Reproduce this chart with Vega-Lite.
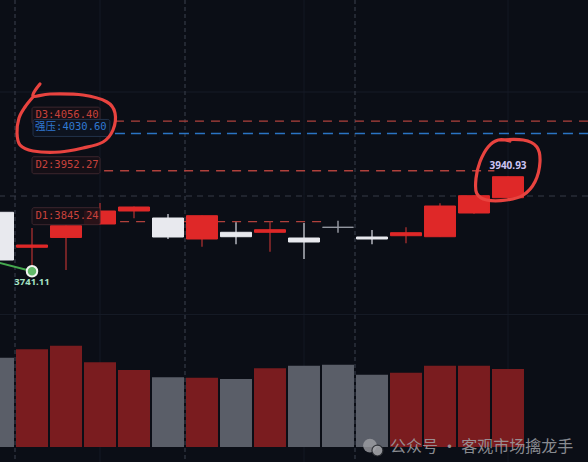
{
  "$schema": "https://vega.github.io/schema/vega-lite/v6.json",
  "width": 588,
  "height": 462,
  "autosize": {"type": "none"},
  "padding": 0,
  "background": "#0b0e16",
  "config": {"view": {"stroke": null}, "scale": {"continuousPadding": 0}},
  "datasets": {
    "candles": [
      {"idx": 0, "open": 3865.0, "high": 3868.0, "low": 3760.0, "close": 3764.8, "vol": 893},
      {"idx": 1, "open": 3791.5, "high": 3832.0, "low": 3741.11, "close": 3796.3, "vol": 977},
      {"idx": 2, "open": 3812.1, "high": 3838.0, "low": 3744.0, "close": 3836.8, "vol": 1013},
      {"idx": 3, "open": 3840.4, "high": 3884.5, "low": 3840.0, "close": 3867.7, "vol": 847},
      {"idx": 4, "open": 3867.7, "high": 3877.0, "low": 3852.4, "close": 3876.1, "vol": 770},
      {"idx": 5, "open": 3853.0, "high": 3861.4, "low": 3808.9, "close": 3813.1, "vol": 697},
      {"idx": 6, "open": 3808.9, "high": 3858.0, "low": 3792.7, "close": 3857.8, "vol": 693},
      {"idx": 7, "open": 3823.0, "high": 3844.0, "low": 3797.8, "close": 3813.7, "vol": 680},
      {"idx": 8, "open": 3823.0, "high": 3845.2, "low": 3782.2, "close": 3828.4, "vol": 787},
      {"idx": 9, "open": 3811.0, "high": 3842.5, "low": 3766.9, "close": 3802.6, "vol": 813},
      {"idx": 10, "open": 3833.5, "high": 3847.3, "low": 3822.1, "close": 3833.5, "vol": 823},
      {"idx": 11, "open": 3813.1, "high": 3827.8, "low": 3797.8, "close": 3808.9, "vol": 723},
      {"idx": 12, "open": 3815.8, "high": 3833.5, "low": 3799.9, "close": 3822.1, "vol": 743},
      {"idx": 13, "open": 3813.7, "high": 3883.9, "low": 3813.0, "close": 3878.2, "vol": 813},
      {"idx": 14, "open": 3863.5, "high": 3900.5, "low": 3862.0, "close": 3899.8, "vol": 813},
      {"idx": 15, "open": 3895.6, "high": 3940.93, "low": 3895.0, "close": 3939.7, "vol": 780}
    ],
    "levels": [
      {"name": "D3", "kind": "D", "price": 4056.40, "start": 3.44, "end": 17.4, "label": "D3:4056.40"},
      {"name": "强压", "kind": "S", "price": 4030.60, "start": 3.44, "end": 17.4, "label": "强压:4030.60"},
      {"name": "D2", "kind": "D", "price": 3952.27, "start": 3.12, "end": 14.6, "label": "D2:3952.27"},
      {"name": "D1", "kind": "D", "price": 3845.24, "start": 3.12, "end": 9.53, "label": "D1:3845.24"}
    ],
    "vgrid_dash": [{"idx": 0.5}, {"idx": 5.5}, {"idx": 10.5}],
    "vgrid_solid": [{"idx": 3}, {"idx": 9}, {"idx": 15}],
    "hgrid_solid": [{"price": 4117.6}, {"price": 3650.3}],
    "hgrid_dash": [{"price": 3899.2}],
    "lowline": [{"idx": 0, "price": 3759.6}, {"idx": 1, "price": 3741.11}],
    "lowpt": [{"idx": 1, "price": 3741.11, "label": "3741.11"}],
    "highpt": [{"idx": 15, "price": 3940.93, "label": "3940.93"}],
    "circles": [
      {"grp": "a", "seq": 0, "idx": 1.235, "price": 4134.4},
      {"grp": "a", "seq": 1, "idx": 1.029, "price": 4109.2},
      {"grp": "a", "seq": 2, "idx": 1.529, "price": 4113.4},
      {"grp": "a", "seq": 3, "idx": 2.5, "price": 4111.3},
      {"grp": "a", "seq": 4, "idx": 3.206, "price": 4096.6},
      {"grp": "a", "seq": 5, "idx": 3.441, "price": 4073.5},
      {"grp": "a", "seq": 6, "idx": 3.382, "price": 4037.8},
      {"grp": "a", "seq": 7, "idx": 3.088, "price": 4012.6},
      {"grp": "a", "seq": 8, "idx": 2.5, "price": 4000.0},
      {"grp": "a", "seq": 9, "idx": 1.824, "price": 3991.6},
      {"grp": "a", "seq": 10, "idx": 1.029, "price": 3993.7},
      {"grp": "a", "seq": 11, "idx": 0.647, "price": 4006.3},
      {"grp": "a", "seq": 12, "idx": 0.559, "price": 4031.5},
      {"grp": "a", "seq": 13, "idx": 0.618, "price": 4063.0},
      {"grp": "a", "seq": 14, "idx": 0.794, "price": 4086.1},
      {"grp": "a", "seq": 15, "idx": 1.029, "price": 4107.1},
      {"grp": "b", "seq": 0, "idx": 14.715, "price": 4016.8},
      {"grp": "b", "seq": 1, "idx": 15.45, "price": 4016.8},
      {"grp": "b", "seq": 2, "idx": 15.844, "price": 4002.7},
      {"grp": "b", "seq": 3, "idx": 15.941, "price": 3971.2},
      {"grp": "b", "seq": 4, "idx": 15.794, "price": 3929.2},
      {"grp": "b", "seq": 5, "idx": 15.45, "price": 3901.3},
      {"grp": "b", "seq": 6, "idx": 14.962, "price": 3890.8},
      {"grp": "b", "seq": 7, "idx": 14.374, "price": 3890.8},
      {"grp": "b", "seq": 8, "idx": 14.079, "price": 3904.9},
      {"grp": "b", "seq": 9, "idx": 14.059, "price": 3936.4},
      {"grp": "b", "seq": 10, "idx": 14.176, "price": 3971.2},
      {"grp": "b", "seq": 11, "idx": 14.421, "price": 4002.7},
      {"grp": "b", "seq": 12, "idx": 14.715, "price": 4016.8},
      {"grp": "b", "seq": 13, "idx": 15.06, "price": 4014.7}
    ],
    "wm_icon": [
      {"idx": 10.94, "price": 3375.2, "part": "big"},
      {"idx": 11.16, "price": 3364.7, "part": "small"}
    ],
    "wm_text": [{"idx": 11.53, "price": 3372.7, "label": "公众号 · 客观市场擒龙手"}]
  },
  "resolve": {"scale": {"y": "independent"}},
  "layer": [
    {
      "data": {"name": "vgrid_solid"},
      "mark": {"type": "rule", "color": "#141924", "strokeWidth": 1},
      "encoding": {"x": {"field": "idx", "type": "quantitative", "scale": {"domain": [0.0588, 17.353], "nice": false, "zero": false, "padding": 0}, "axis": null}}
    },
    {
      "data": {"name": "hgrid_solid"},
      "mark": {"type": "rule", "color": "#161b26", "strokeWidth": 1},
      "encoding": {"y": {"field": "price", "type": "quantitative", "scale": {"domain": [3340.6, 4310.8], "nice": false, "zero": false, "padding": 0}, "axis": null}}
    },
    {
      "data": {"name": "vgrid_dash"},
      "mark": {"type": "rule", "color": "#2c313c", "strokeWidth": 1.5, "strokeDash": [4, 3]},
      "encoding": {"x": {"field": "idx", "type": "quantitative", "scale": {"domain": [0.0588, 17.353], "nice": false, "zero": false, "padding": 0}, "axis": null}}
    },
    {
      "data": {"name": "hgrid_dash"},
      "mark": {"type": "rule", "color": "#363b47", "strokeWidth": 1, "strokeDash": [6, 5]},
      "encoding": {"y": {"field": "price", "type": "quantitative", "scale": {"domain": [3340.6, 4310.8], "nice": false, "zero": false, "padding": 0}, "axis": null}}
    },
    {
      "data": {"name": "candles"},
      "mark": {"type": "bar", "width": 32, "clip": true},
      "encoding": {
        "x": {"field": "idx", "type": "quantitative", "scale": {"domain": [0.0588, 17.353], "nice": false, "zero": false, "padding": 0}, "axis": null},
        "y": {"field": "vol", "type": "quantitative", "scale": {"domain": [-150, 4470], "nice": false, "zero": false, "padding": 0}, "axis": null},
        "y2": {"datum": 0},
        "color": {"condition": {"test": "datum.close > datum.open", "value": "#7a1c1f"}, "value": "#5a5e68"}
      }
    },
    {
      "data": {"name": "levels"},
      "transform": [{"filter": "datum.kind == 'D'"}],
      "mark": {"type": "rule", "color": "#b0413c", "strokeWidth": 1.3, "strokeDash": [9, 7]},
      "encoding": {
        "x": {"field": "start", "type": "quantitative", "scale": {"domain": [0.0588, 17.353], "nice": false, "zero": false, "padding": 0}, "axis": null},
        "x2": {"field": "end"},
        "y": {"field": "price", "type": "quantitative", "scale": {"domain": [3340.6, 4310.8], "nice": false, "zero": false, "padding": 0}, "axis": null}
      }
    },
    {
      "data": {"name": "levels"},
      "transform": [{"filter": "datum.kind == 'S'"}],
      "mark": {"type": "rule", "color": "#2a74c4", "strokeWidth": 1.4, "strokeDash": [10, 6]},
      "encoding": {
        "x": {"field": "start", "type": "quantitative", "scale": {"domain": [0.0588, 17.353], "nice": false, "zero": false, "padding": 0}, "axis": null},
        "x2": {"field": "end"},
        "y": {"field": "price", "type": "quantitative", "scale": {"domain": [3340.6, 4310.8], "nice": false, "zero": false, "padding": 0}, "axis": null}
      }
    },
    {
      "data": {"name": "candles"},
      "mark": {"type": "rule", "strokeWidth": 1.6, "clip": true},
      "encoding": {
        "x": {"field": "idx", "type": "quantitative", "scale": {"domain": [0.0588, 17.353], "nice": false, "zero": false, "padding": 0}, "axis": null},
        "y": {"field": "low", "type": "quantitative", "scale": {"domain": [3340.6, 4310.8], "nice": false, "zero": false, "padding": 0}, "axis": null},
        "y2": {"field": "high"},
        "color": {"condition": [{"test": "datum.close > datum.open", "value": "#8c2a2b"}, {"test": "datum.close < datum.open", "value": "#a7aab2"}], "value": "#8a8d96"}
      }
    },
    {
      "data": {"name": "candles"},
      "mark": {"type": "bar", "width": 31, "strokeWidth": 1, "clip": true},
      "encoding": {
        "x": {"field": "idx", "type": "quantitative", "scale": {"domain": [0.0588, 17.353], "nice": false, "zero": false, "padding": 0}, "axis": null},
        "y": {"field": "open", "type": "quantitative", "scale": {"domain": [3340.6, 4310.8], "nice": false, "zero": false, "padding": 0}, "axis": null},
        "y2": {"field": "close"},
        "color": {"condition": [{"test": "datum.close > datum.open", "value": "#df2828"}, {"test": "datum.close < datum.open", "value": "#e8e9ee"}], "value": "#9a9da6"},
        "stroke": {"condition": [{"test": "datum.close > datum.open", "value": "#df2828"}, {"test": "datum.close < datum.open", "value": "#e8e9ee"}], "value": "#9a9da6"}
      }
    },
    {
      "data": {"name": "levels"},
      "transform": [{"filter": "datum.name == 'D3'"}],
      "mark": {"type": "rect", "fill": "#160f16", "fillOpacity": 0.9, "stroke": "#3d262d", "strokeWidth": 1, "cornerRadius": 2, "yOffset": -14, "y2Offset": 3},
      "encoding": {
        "x": {"datum": 1.0, "type": "quantitative", "scale": {"domain": [0.0588, 17.353], "nice": false, "zero": false, "padding": 0}, "axis": null},
        "x2": {"datum": 3.0},
        "y": {"field": "price", "type": "quantitative", "scale": {"domain": [3340.6, 4310.8], "nice": false, "zero": false, "padding": 0}, "axis": null},
        "y2": {"field": "price"}
      }
    },
    {
      "data": {"name": "levels"},
      "transform": [{"filter": "datum.name == 'D3'"}],
      "mark": {"type": "text", "align": "left", "baseline": "middle", "dy": -6, "font": "DejaVu Sans Mono", "fontSize": 10.5, "color": "#c8423c"},
      "encoding": {
        "x": {"datum": 1.1, "type": "quantitative", "scale": {"domain": [0.0588, 17.353], "nice": false, "zero": false, "padding": 0}, "axis": null},
        "y": {"field": "price", "type": "quantitative", "scale": {"domain": [3340.6, 4310.8], "nice": false, "zero": false, "padding": 0}, "axis": null},
        "text": {"field": "label"}
      }
    },
    {
      "data": {"name": "levels"},
      "transform": [{"filter": "datum.kind == 'S'"}],
      "mark": {"type": "rect", "fill": "#0e1421", "fillOpacity": 0.92, "stroke": "#22324a", "strokeWidth": 1, "cornerRadius": 2, "yOffset": -14, "y2Offset": 3},
      "encoding": {
        "x": {"datum": 1.03, "type": "quantitative", "scale": {"domain": [0.0588, 17.353], "nice": false, "zero": false, "padding": 0}, "axis": null},
        "x2": {"datum": 3.29},
        "y": {"field": "price", "type": "quantitative", "scale": {"domain": [3340.6, 4310.8], "nice": false, "zero": false, "padding": 0}, "axis": null},
        "y2": {"field": "price"}
      }
    },
    {
      "data": {"name": "levels"},
      "transform": [{"filter": "datum.kind == 'S'"}],
      "mark": {"type": "text", "align": "left", "baseline": "middle", "dy": -6, "font": "DejaVu Sans Mono, Noto Sans CJK SC", "fontSize": 10.5, "color": "#3079d2"},
      "encoding": {
        "x": {"datum": 1.09, "type": "quantitative", "scale": {"domain": [0.0588, 17.353], "nice": false, "zero": false, "padding": 0}, "axis": null},
        "y": {"field": "price", "type": "quantitative", "scale": {"domain": [3340.6, 4310.8], "nice": false, "zero": false, "padding": 0}, "axis": null},
        "text": {"field": "label"}
      }
    },
    {
      "data": {"name": "levels"},
      "transform": [{"filter": "datum.name == 'D2' || datum.name == 'D1'"}],
      "mark": {"type": "rect", "fill": "#160f16", "fillOpacity": 0.9, "stroke": "#3d262d", "strokeWidth": 1, "cornerRadius": 2, "yOffset": -14, "y2Offset": 3},
      "encoding": {
        "x": {"datum": 1.0, "type": "quantitative", "scale": {"domain": [0.0588, 17.353], "nice": false, "zero": false, "padding": 0}, "axis": null},
        "x2": {"datum": 3.0},
        "y": {"field": "price", "type": "quantitative", "scale": {"domain": [3340.6, 4310.8], "nice": false, "zero": false, "padding": 0}, "axis": null},
        "y2": {"field": "price"}
      }
    },
    {
      "data": {"name": "levels"},
      "transform": [{"filter": "datum.name == 'D2' || datum.name == 'D1'"}],
      "mark": {"type": "text", "align": "left", "baseline": "middle", "dy": -6, "font": "DejaVu Sans Mono", "fontSize": 10.5, "color": "#c8423c"},
      "encoding": {
        "x": {"datum": 1.1, "type": "quantitative", "scale": {"domain": [0.0588, 17.353], "nice": false, "zero": false, "padding": 0}, "axis": null},
        "y": {"field": "price", "type": "quantitative", "scale": {"domain": [3340.6, 4310.8], "nice": false, "zero": false, "padding": 0}, "axis": null},
        "text": {"field": "label"}
      }
    },
    {
      "data": {"name": "lowline"},
      "mark": {"type": "line", "color": "#45a84e", "strokeWidth": 2, "clip": true},
      "encoding": {
        "x": {"field": "idx", "type": "quantitative", "scale": {"domain": [0.0588, 17.353], "nice": false, "zero": false, "padding": 0}, "axis": null},
        "y": {"field": "price", "type": "quantitative", "scale": {"domain": [3340.6, 4310.8], "nice": false, "zero": false, "padding": 0}, "axis": null}
      }
    },
    {
      "data": {"name": "lowpt"},
      "mark": {"type": "point", "shape": "circle", "filled": true, "size": 110, "fill": "#62b86a", "fillOpacity": 1, "stroke": "#f2f4f2", "strokeWidth": 2, "opacity": 1},
      "encoding": {
        "x": {"field": "idx", "type": "quantitative", "scale": {"domain": [0.0588, 17.353], "nice": false, "zero": false, "padding": 0}, "axis": null},
        "y": {"field": "price", "type": "quantitative", "scale": {"domain": [3340.6, 4310.8], "nice": false, "zero": false, "padding": 0}, "axis": null}
      }
    },
    {
      "data": {"name": "lowpt"},
      "mark": {"type": "text", "align": "center", "baseline": "middle", "dy": 11, "font": "Noto Sans", "fontWeight": "bold", "fontSize": 9.5, "color": "#a6e2c4"},
      "encoding": {
        "x": {"field": "idx", "type": "quantitative", "scale": {"domain": [0.0588, 17.353], "nice": false, "zero": false, "padding": 0}, "axis": null},
        "y": {"field": "price", "type": "quantitative", "scale": {"domain": [3340.6, 4310.8], "nice": false, "zero": false, "padding": 0}, "axis": null},
        "text": {"field": "label"}
      }
    },
    {
      "data": {"name": "highpt"},
      "mark": {"type": "text", "align": "center", "baseline": "middle", "dy": -10, "font": "Noto Sans", "fontWeight": "bold", "fontSize": 10, "color": "#cbc4f3"},
      "encoding": {
        "x": {"field": "idx", "type": "quantitative", "scale": {"domain": [0.0588, 17.353], "nice": false, "zero": false, "padding": 0}, "axis": null},
        "y": {"field": "price", "type": "quantitative", "scale": {"domain": [3340.6, 4310.8], "nice": false, "zero": false, "padding": 0}, "axis": null},
        "text": {"field": "label"}
      }
    },
    {
      "data": {"name": "circles"},
      "mark": {"type": "line", "color": "#e8433f", "strokeWidth": 3.2, "strokeCap": "round", "strokeJoin": "round", "interpolate": "cardinal"},
      "encoding": {
        "x": {"field": "idx", "type": "quantitative", "scale": {"domain": [0.0588, 17.353], "nice": false, "zero": false, "padding": 0}, "axis": null},
        "y": {"field": "price", "type": "quantitative", "scale": {"domain": [3340.6, 4310.8], "nice": false, "zero": false, "padding": 0}, "axis": null},
        "detail": {"field": "grp"},
        "order": {"field": "seq"}
      }
    },
    {
      "data": {"name": "wm_icon"},
      "transform": [{"filter": "datum.part == 'big'"}],
      "mark": {"type": "point", "shape": "circle", "filled": true, "size": 190, "color": "#9c9da2", "opacity": 0.8},
      "encoding": {
        "x": {"field": "idx", "type": "quantitative", "scale": {"domain": [0.0588, 17.353], "nice": false, "zero": false, "padding": 0}, "axis": null},
        "y": {"field": "price", "type": "quantitative", "scale": {"domain": [3340.6, 4310.8], "nice": false, "zero": false, "padding": 0}, "axis": null}
      }
    },
    {
      "data": {"name": "wm_icon"},
      "transform": [{"filter": "datum.part == 'small'"}],
      "mark": {"type": "point", "shape": "circle", "filled": true, "size": 120, "fill": "#a3a4a9", "stroke": "#2a2c31", "strokeWidth": 1.2, "opacity": 0.9},
      "encoding": {
        "x": {"field": "idx", "type": "quantitative", "scale": {"domain": [0.0588, 17.353], "nice": false, "zero": false, "padding": 0}, "axis": null},
        "y": {"field": "price", "type": "quantitative", "scale": {"domain": [3340.6, 4310.8], "nice": false, "zero": false, "padding": 0}, "axis": null}
      }
    },
    {
      "data": {"name": "wm_text"},
      "mark": {"type": "text", "align": "left", "baseline": "middle", "font": "Noto Sans CJK SC", "fontSize": 16, "color": "#a0a1a6", "opacity": 0.85},
      "encoding": {
        "x": {"field": "idx", "type": "quantitative", "scale": {"domain": [0.0588, 17.353], "nice": false, "zero": false, "padding": 0}, "axis": null},
        "y": {"field": "price", "type": "quantitative", "scale": {"domain": [3340.6, 4310.8], "nice": false, "zero": false, "padding": 0}, "axis": null},
        "text": {"field": "label"}
      }
    }
  ]
}
